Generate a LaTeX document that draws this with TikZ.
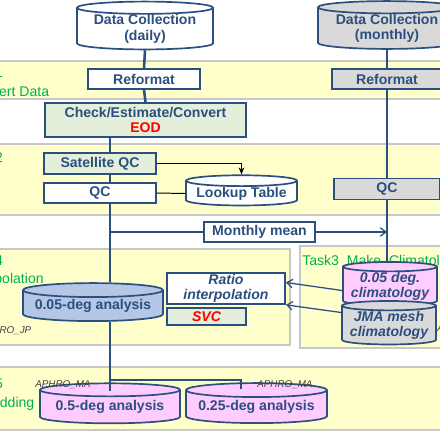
\documentclass[tikz,border=0pt]{standalone}
\usepackage{fontspec}
\setmainfont{Liberation Sans}
\usetikzlibrary{shapes.geometric,arrows.meta,calc}

\definecolor{navy}{HTML}{2B4F7E}
\definecolor{bandfill}{HTML}{FFFFCC}
\definecolor{bandline}{HTML}{C8C8C8}
\definecolor{boxgreen}{HTML}{E3EFDA}
\definecolor{boxgray}{HTML}{D9D9D9}
\definecolor{boxpink}{HTML}{FFCCFF}
\definecolor{boxblue}{HTML}{B4C7E7}
\definecolor{taskgreen}{HTML}{00B050}
\definecolor{tagtext}{HTML}{404040}

\tikzset{
  proc/.style={draw=navy, line width=1.2pt, text=navy, inner sep=0pt, align=center,
    font=\fontsize{10}{11}\selectfont\bfseries},
  store/.style={cylinder, shape border rotate=90, aspect=0.12, draw=navy, line width=1.2pt,
    text=navy, inner sep=0pt, align=center, font=\fontsize{10}{11}\selectfont\bfseries},
  band/.style={fill=bandfill, draw=bandline, line width=0.8pt},
  tasktext/.style={text=taskgreen, inner sep=0pt, font=\fontsize{10}{12}\selectfont},
  tag/.style={text=tagtext, inner sep=0pt, font=\fontsize{7}{8}\selectfont\itshape},
  flow/.style={draw=navy, line width=1.8pt},
  feed/.style={draw=navy, line width=0.9pt, -{Straight Barb[length=4pt,width=6pt]}},
  link/.style={draw=black, line width=0.7pt}
}

\begin{document}
\begin{tikzpicture}[x=0.025cm, y=-0.025cm]
\useasboundingbox (0,0) rectangle (440,440);
\clip (0,0) rectangle (440,440);

% task bands
\filldraw[band] (-5,61) rectangle (445,99);
\filldraw[band] (-5,144) rectangle (445,215);
\filldraw[band] (-5,249) rectangle (290,345);
\filldraw[band] (300,246) rectangle (445,348);
\filldraw[band] (-5,367) rectangle (445,430);

% task titles
\node[tasktext, anchor=base west] (t1a) at (-34,78) {Task1};
\node[tasktext, anchor=base west] (t1b) at (-34,97) {Convert Data};
\node[tasktext, anchor=base west] (t2a) at (-34,162) {Task2};
\node[tasktext, anchor=base west] (t4a) at (-34,265) {Task4};
\node[tasktext, anchor=base west] (t4b) at (-34,283) {Interpolation};
\node[tasktext, anchor=base west] (t5a) at (-34,388) {Task5};
\node[tasktext, anchor=base west] (t5b) at (-34,407) {Regridding};
\node[tasktext, anchor=base west] (t3a) at (302,265) {Task3\ \ Make\ \ Climatology};

% daily stream
\node[store, fill=white, minimum width=3.4cm, minimum height=1.05cm] (dcday) at (145,29) {Data Collection\\(daily)};
\node[proc, fill=white, minimum width=2.8cm, minimum height=0.5cm] (refday) at (144,79) {Reformat};
\node[proc, fill=boxgreen, minimum width=5.025cm, minimum height=0.85cm] (check) at (145.5,120) {Check/Estimate/Convert\\\textcolor{red}{EOD}};
\node[proc, fill=boxgreen, minimum width=2.8cm, minimum height=0.525cm] (satqc) at (100,163.5) {Satellite QC};
\node[proc, fill=white, minimum width=2.8cm, minimum height=0.5cm] (qcday) at (100,193) {QC};
\node[store, fill=white, minimum width=2.775cm, minimum height=0.725cm] (lookup) at (241.5,193.5) {Lookup Table};
\node[proc, fill=white, minimum width=2.775cm, minimum height=0.5cm] (mmean) at (259.5,232) {Monthly mean};
\node[store, fill=boxblue, minimum width=3.5cm, minimum height=0.95cm] (ana005) at (93,306) {0.05-deg analysis};
\node[proc, fill=white, minimum width=2.95cm, minimum height=0.775cm, font=\fontsize{10}{11}\selectfont\bfseries\itshape] (ratio) at (226,288.5) {Ratio\\interpolation};
\node[proc, fill=boxgreen, minimum width=1.975cm, minimum height=0.425cm, text=red, font=\fontsize{10}{11}\selectfont\bfseries\itshape] (svc) at (206.5,316.5) {SVC};
\node[store, fill=boxpink, minimum width=3.5cm, minimum height=1cm] (ana05) at (110,407) {0.5-deg analysis};
\node[store, fill=boxpink, minimum width=3.525cm, minimum height=1cm] (ana025) at (256.5,407) {0.25-deg analysis};

% monthly stream
\node[store, fill=boxgray, minimum width=3.45cm, minimum height=1.075cm] (dcmon) at (387,28.5) {Data Collection\\(monthly)};
\node[proc, fill=boxgray, minimum width=2.75cm, minimum height=0.5cm] (refmon) at (387,79) {Reformat};
\node[proc, fill=boxgray, minimum width=2.65cm, minimum height=0.525cm] (qcmon) at (387,189) {QC};
\node[store, fill=boxpink, minimum width=2.35cm, minimum height=0.825cm, font=\fontsize{10}{11}\selectfont\bfseries\itshape] (clim005) at (390,286.5) {0.05 deg.\\climatology};
\node[store, fill=boxgray, minimum width=2.35cm, minimum height=0.925cm, font=\fontsize{10}{11}\selectfont\bfseries\itshape] (jma) at (389,325.5) {JMA mesh\\climatology};

% product tags
\node[tag, anchor=base west] (tagjp) at (-21,333) {APHRO\_JP};
\node[tag, anchor=base west] (tagma) at (35,387) {APHRO\_MA};
\node[tag, anchor=base west] (tagmb) at (257,387) {APHRO\_MA};
\node[tag, anchor=base west] (tagjm) at (437,331) {APHRO\_JP};

% trunk lines
\coordinate (trunk) at (110,0);
\coordinate (mtrunk) at (387,0);
\coordinate (drop) at (241,0);
\coordinate (fork) at (110,380);
\draw[flow] (dcday.south) -- (refday.north);
\draw[flow] (refday.south) -- (check.north);
\draw[flow] (check.south -| trunk) -- (satqc.north -| trunk);
\draw[flow] (satqc.south -| trunk) -- (qcday.north -| trunk);
\draw[flow] (qcday.south -| trunk) -- (ana005.north -| trunk);
\draw[flow] (ana005.south -| trunk) -- ($(ana05.north -| trunk)+(0,9)$);
\draw[flow] (fork) -| ($(ana025.north -| drop)+(0,7)$);
\draw[flow] (dcmon.south) -- (refmon.north);
\draw[flow] (refmon.south) -- (qcmon.north);
\draw[flow] (qcmon.south) -- (clim005.north -| mtrunk);

% side links
\draw[link, -{Stealth[length=5pt,width=4pt]}] (satqc.east) -| (lookup.north);
\draw[link] (qcday.east) -- (lookup.west);
\draw[navy, line width=0.9pt] (trunk |- mmean.west) -- (mmean.west);
\draw[feed] (mmean.east) -- (mmean.east -| mtrunk);
\draw[feed] ($(clim005.west)+(0,4)$) -- ($(ratio.east)+(0,-6)$);
\draw[feed] ($(jma.west)+(0,-13)$) -- (ratio.south east);
\end{tikzpicture}
\end{document}
